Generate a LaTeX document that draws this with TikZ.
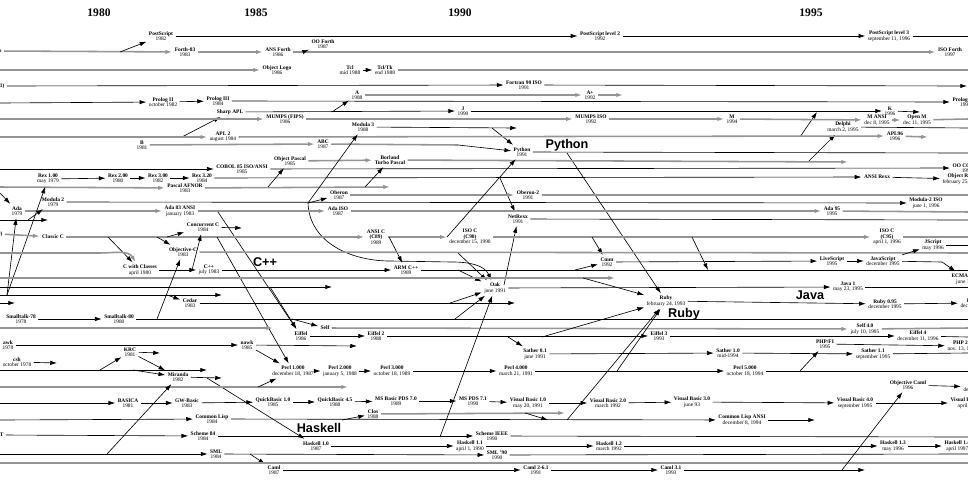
\documentclass[tikz,border=0pt]{standalone}
\usepackage{fontspec}
\setmainfont{Liberation Serif}
\newfontfamily\bigsans{Liberation Sans}
\usetikzlibrary{arrows.meta}
\tikzset{
x=0.025cm, y=-0.025cm, % one unit is one pixel of the chart, y runs down
>={Latex[length=4.8pt, width=3.1pt]}, % the arrow tip of every connector
lang/.style={align=center, inner sep=1.6pt, font=\fontsize{3.85}{3.85}\selectfont}, % a language and its date
era/.style={font=\bfseries\fontsize{8.2}{9}\selectfont}, % the years on top
family/.style={font=\bigsans\bfseries\fontsize{9}{10}\selectfont}, % the big family names
bk/.style={black, line width=0.45pt}, % thin black lines
gy/.style={black!42, line width=1.1pt}, % thick grey lines
}
\begin{document}
\begin{tikzpicture}
\useasboundingbox (0, 0) rectangle (968, 480);

\node[era] at (99, 13) (e1980) {1980};
\node[era] at (256, 13) (e1985) {1985};
\node[era] at (460, 13) (e1990) {1990};
\node[era] at (811, 13) (e1995) {1995};

\node[family] at (567, 145) (fPython) {Python};
\node[family] at (265, 262) (fCpp) {C++};
\node[family] at (810, 295) (fJava) {Java};
\node[family] at (684, 314) (fRuby) {Ruby};
\node[family] at (319, 428) (fHaskell) {Haskell};

% PostScript, Forth, Logo, Tcl
\node[lang] at (161, 36) (ps) {\textbf{PostScript}\\1982};
\node[lang] at (600, 36) (psII) {\textbf{PostScript level 2}\\1992};
\node[lang] at (889, 36) (psIII) {\textbf{PostScript level 3}\\september 11, 1996};
\coordinate (psEnd) at (968, 36);
\node[lang, anchor=east] at (4, 51) (frO) {\textbf{o}};
\coordinate (forthB) at (120, 52);
\coordinate (forthC) at (303, 52);
\node[lang] at (185, 52) (forth83) {\textbf{Forth-83}\\1983};
\node[lang] at (278, 52) (ansforth) {\textbf{ANS Forth}\\1986};
\node[lang] at (323, 44) (ooforth) {\textbf{OO Forth}\\1987};
\node[lang] at (950, 52) (isoforth) {\textbf{ISO Forth}\\1997};
\coordinate (logoA) at (0, 70);
\node[lang] at (277, 70) (ologo) {\textbf{Object Logo}\\1986};
\node[lang] at (350, 70) (tcl) {\textbf{Tcl}\\mid 1988};
\node[lang] at (385, 70) (tcltk) {\textbf{Tcl/Tk}\\end 1988};
\coordinate (tkEnd) at (968, 70);

% Fortran, APL, Prolog, MUMPS
\node[lang, anchor=east] at (7, 86) (frF) {\textbf{81)}};
\node[lang] at (524, 85) (fortran) {\textbf{Fortran 90 ISO}\\1991};
\coordinate (fortEnd) at (967, 86);
\node[lang] at (357, 95) (aa) {\textbf{A}\\1988};
\node[lang] at (590, 95) (aplus) {\textbf{A+}\\1992};
\coordinate (aplusEnd) at (623, 95);
\coordinate (prologA) at (0, 103);
\node[lang] at (163, 102) (prologII) {\textbf{Prolog II}\\october 1982};
\node[lang] at (218, 101) (prologIII) {\textbf{Prolog III}\\1984};
\node[lang, anchor=west] at (950, 102) (prologiso) {\textbf{Prolog ISO}\\1995};
\node[lang] at (230, 112) (sharpapl) {\textbf{Sharp APL}};
\coordinate (sharpB) at (332, 112);
\node[lang] at (463, 111) (jj) {\textbf{J}\\1990};
\node[lang] at (890, 111) (kk) {\textbf{K}\\1996};
\coordinate (kEnd) at (920, 112);
\coordinate (mumpsA) at (0, 119);
\node[lang] at (285, 119) (mumpsfips) {\textbf{MUMPS (FIPS)}\\1986};
\node[lang] at (591, 119) (mumpsiso) {\textbf{MUMPS ISO}\\1992};
\node[lang] at (732, 119) (mm) {\textbf{M}\\1994};
\node[lang] at (877, 120) (mansi) {\textbf{M ANSI}\\dec 8, 1995};
\node[lang] at (917, 120) (openm) {\textbf{Open M}\\dec 11, 1995};
\coordinate (mEnd) at (968, 119);
\node[lang] at (363, 127) (modula3) {\textbf{Modula 3}\\1988};
\coordinate (mod3B) at (492, 128);
\coordinate (mod3End) at (517, 128);
\node[lang] at (843, 127) (delphi) {\textbf{Delphi}\\march 2, 1995};
\coordinate (delphiEnd) at (968, 128);
\coordinate (aplA) at (0, 137);
\coordinate (aplB) at (182, 137);
\node[lang] at (223, 137) (apl2) {\textbf{APL 2}\\august 1984};
\coordinate (aplC) at (800, 137);
\coordinate (aplD) at (817, 112);
\node[lang] at (895, 136) (apl96) {\textbf{APL96}\\1996};
\coordinate (apl96End) at (928, 137);

% B, Python, Pascal, COBOL, Rexx
\node[lang] at (142, 145) (bb) {\textbf{B}\\1981};
\node[lang] at (323, 144) (abc) {\textbf{ABC}\\1987};
\coordinate (abcB) at (458, 145);
\node[lang] at (522, 152) (python) {\textbf{Python}\\1991};
\coordinate (pyB) at (567, 153);
\coordinate (pyEnd) at (968, 153);
\node[lang] at (290, 161) (objpascal) {\textbf{Object Pascal}\\1985};
\node[lang] at (390, 160) (turbo) {\textbf{Borland}\\\textbf{Turbo Pascal}};
\coordinate (pascB) at (808, 162);
\coordinate (pascEnd) at (848, 162);
\coordinate (cobolA) at (0, 169);
\node[lang] at (242, 169) (cobol) {\textbf{COBOL 85 ISO/ANSI}\\1985};
\node[lang, anchor=west] at (950, 168) (oocobol) {\textbf{OO COBOL}\\1997};
\node[lang] at (48, 179) (rexI) {\textbf{Rex 1.00}\\may 1979};
\node[lang] at (118, 178) (rexII) {\textbf{Rex 2.00}\\1980};
\node[lang] at (158, 178) (rexIII) {\textbf{Rex 3.00}\\1982};
\node[lang] at (202, 178) (rexIV) {\textbf{Rex 3.20}\\1984};
\coordinate (rexB) at (500, 178);
\node[lang] at (877, 177) (ansirexx) {\textbf{ANSI Rexx}};
\node[lang, anchor=west] at (940, 179) (objrexx) {\textbf{Object Rexx}\\february 25, 1997};
\coordinate (pascA) at (0, 187);
\node[lang] at (185, 188) (pafnor) {\textbf{Pascal AFNOR}\\1983};
\coordinate (pafB) at (268, 187);
\coordinate (pafC) at (365, 187);
\coordinate (pafEnd) at (390, 187);

% Modula, Oberon, Ada
\node[lang] at (339, 195) (oberon) {\textbf{Oberon}\\1987};
\node[lang] at (528, 195) (oberonII) {\textbf{Oberon-2}\\1991};
\coordinate (oberonEnd) at (968, 195);
\node[lang] at (53, 202) (modula2) {\textbf{Modula 2}\\1979};
\coordinate (mod2B) at (308, 203);
\node[lang] at (926, 203) (mod2iso) {\textbf{Modula-2 ISO}\\june 1, 1996};
\coordinate (curveM) at (390, 261);
\coordinate (curveN) at (452, 262);
\coordinate (adaT) at (0, 193);
\node[lang] at (17, 211) (ada) {\textbf{Ada}\\1979};
\node[lang] at (180, 211) (ada83) {\textbf{Ada 83 ANSI}\\january 1983};
\coordinate (adaB) at (218, 212);
\node[lang] at (338, 211) (adaiso) {\textbf{Ada ISO}\\1987};
\node[lang] at (832, 211) (ada95) {\textbf{Ada 95}\\1995};
\coordinate (adaEnd) at (968, 212);
\coordinate (plA) at (0, 220);
\coordinate (plB) at (28, 220);
\coordinate (plEnd) at (48, 220);
\node[lang] at (518, 219) (netrexx) {\textbf{NetRexx}\\1991};
\coordinate (netEnd) at (968, 220);

% C family
\node[lang] at (203, 227) (concc) {\textbf{Concurrent C}\\1984};
\coordinate (conccEnd) at (242, 228);
\node[lang, anchor=east] at (5, 234) (frC) {\textbf{0)}};
\node[lang] at (53, 237) (classicc) {\textbf{Classic C}};
\coordinate (cB) at (108, 237);
\coordinate (cC) at (157, 237);
\coordinate (cD) at (167, 237);
\coordinate (cE) at (217, 237);
\node[lang] at (376, 237) (ansic) {\textbf{ANSI C}\\\textbf{(C89)}\\1989};
\coordinate (cF) at (389, 237);
\coordinate (cG) at (447, 237);
\node[lang] at (470, 237) (isoc) {\textbf{ISO C}\\\textbf{(C90)}\\december 15, 1990};
\coordinate (cH) at (592, 237);
\coordinate (cI) at (692, 237);
\coordinate (cJ) at (708, 270);
\node[lang] at (887, 237) (isoc95) {\textbf{ISO C}\\\textbf{(C95)}\\april 1, 1996};
\coordinate (cEnd) at (968, 237);
\coordinate (simA) at (0, 253);
\coordinate (simB) at (100, 253);
\node[lang] at (183, 252) (objc) {\textbf{Objective-C}\\1983};
\coordinate (objcB) at (458, 253);
\coordinate (objcEnd) at (968, 253);
\node[lang] at (607, 262) (cmm) {\textbf{Cmm}\\1992};
\node[lang] at (832, 261) (livescript) {\textbf{LiveScript}\\1995};
\node[lang] at (883, 261) (javascript) {\textbf{JavaScript}\\december 1995};
\node[lang] at (933, 245) (jscript) {\textbf{JScript}\\may 1996};
\coordinate (jsEnd) at (968, 245);
\coordinate (jsB) at (942, 262);
\node[lang, anchor=west] at (949, 279) (ecma) {\textbf{ECMAScript}\\june 1997};
\node[lang] at (140, 270) (cwc) {\textbf{C with Classes}\\april 1980};
\coordinate (cppB) at (192, 270);
\node[lang] at (209, 270) (cpp) {\textbf{C++}\\july 1983};
\node[lang] at (406, 270) (armcpp) {\textbf{ARM C++}\\1989};
\coordinate (armB) at (458, 270);
\coordinate (armC) at (575, 270);
\coordinate (cppEnd) at (968, 270);

% Java, Cedar, Ruby, Smalltalk
\coordinate (r278A) at (0, 278);
\coordinate (r278B) at (583, 278);
\coordinate (r278End) at (615, 278);
\coordinate (r287A) at (0, 287);
\coordinate (r287B) at (270, 287);
\coordinate (r287End) at (332, 287);
\node[lang] at (495, 288) (oak) {\textbf{Oak}\\june 1991};
\coordinate (oakB) at (504, 285);
\node[lang] at (848, 287) (java) {\textbf{Java 1}\\may 23, 1995};
\coordinate (javaEnd) at (968, 287);
\coordinate (r295A) at (0, 295);
\coordinate (r295B) at (7, 295);
\coordinate (r295C) at (167, 295);
\coordinate (r295End) at (222, 295);
\coordinate (r303A) at (0, 303);
\coordinate (r303End) at (15, 303);
\node[lang] at (190, 303) (cedar) {\textbf{Cedar}\\1983};
\coordinate (cedarB) at (450, 303);
\coordinate (cedarEnd) at (515, 303);
\node[lang] at (666, 301) (ruby) {\textbf{Ruby}\\february 24, 1993};
\node[lang] at (885, 304) (rubyII) {\textbf{Ruby 0.95}\\december 1995};
\node[lang, anchor=west] at (958, 303) (rubyIII) {\textbf{Ruby 1.0}\\december 1996};
\node[lang] at (21, 319) (stI) {\textbf{Smalltalk-78}\\1978};
\node[lang] at (119, 319) (stII) {\textbf{Smalltalk-80}\\1980};
\coordinate (stB) at (157, 319);
\coordinate (stC) at (292, 319);
\coordinate (stD) at (455, 319);
\coordinate (stEnd) at (968, 319);

% Self, Eiffel, awk, Sather, Perl, PHP
\coordinate (r328A) at (0, 328);
\coordinate (r328End) at (273, 328);
\node[lang] at (325, 328) (self) {\textbf{Self}};
\node[lang] at (865, 329) (selfIV) {\textbf{Self 4.0}\\july 10, 1995};
\coordinate (selfEnd) at (968, 328);
\node[lang] at (301, 336) (eiffel) {\textbf{Eiffel}\\1986};
\node[lang] at (376, 336) (eiffelII) {\textbf{Eiffel 2}\\1988};
\coordinate (effB) at (508, 337);
\coordinate (effC) at (542, 337);
\node[lang] at (659, 336) (eiffelIII) {\textbf{Eiffel 3}\\1993};
\node[lang] at (918, 336) (eiffelIV) {\textbf{Eiffel 4}\\december 11, 1996};
\coordinate (effEnd) at (968, 337);
\node[lang] at (8, 345) (awk) {\textbf{awk}\\1978};
\node[lang] at (247, 345) (nawk) {\textbf{nawk}\\1985};
\coordinate (nawkEnd) at (357, 346);
\node[lang] at (825, 344) (phpfi) {\textbf{PHP/FI}\\1995};
\node[lang, anchor=west] at (945, 346) (phpII) {\textbf{PHP 2.0}\\nov. 13, 1997};
\node[lang] at (130, 352) (krc) {\textbf{KRC}\\1981};
\coordinate (krcEnd) at (160, 353);
\node[lang] at (535, 354) (satherI) {\textbf{Sather 0.1}\\june 1991};
\node[lang] at (728, 353) (satherII) {\textbf{Sather 1.0}\\mid-1994};
\node[lang] at (873, 354) (satherIII) {\textbf{Sather 1.1}\\september 1995};
\coordinate (satherEnd) at (968, 353);
\node[lang] at (17, 362) (csh) {\textbf{csh}\\october 1978};
\coordinate (cshEnd) at (57, 363);
\coordinate (r371A) at (0, 370);
\coordinate (r371B) at (100, 370);
\coordinate (r371C) at (133, 370);
\coordinate (r371End) at (207, 370);
\node[lang] at (293, 371) (perlI) {\textbf{Perl 1.000}\\december 18, 1987};
\node[lang] at (340, 371) (perlII) {\textbf{Perl 2.000}\\january 5, 1988};
\node[lang] at (392, 371) (perlIII) {\textbf{Perl 3.000}\\october 18, 1989};
\node[lang] at (516, 371) (perlIV) {\textbf{Perl 4.000}\\march 21, 1991};
\coordinate (perlB) at (617, 371);
\node[lang] at (745, 371) (perlV) {\textbf{Perl 5.000}\\october 18, 1994};
\coordinate (perlC) at (800, 371);
\coordinate (perlEnd) at (968, 371);

% Miranda, BASIC, Lisp, Scheme, Haskell, ML
\node[lang] at (178, 377) (miranda) {\textbf{Miranda}\\1982};
\coordinate (mirB) at (207, 378);
\coordinate (mirEnd) at (222, 378);
\coordinate (r387A) at (0, 387);
\coordinate (r387B) at (258, 387);
\coordinate (r387End) at (348, 387);
\node[lang] at (908, 385) (ocaml) {\textbf{Objective Caml}\\1996};
\node[lang, anchor=west] at (961, 387) (camlsl) {\textbf{Caml}\\december 1996};
\coordinate (basA) at (0, 403);
\node[lang] at (128, 403) (basica) {\textbf{BASICA}\\1981};
\node[lang] at (187, 403) (gwbasic) {\textbf{GW-Basic}\\1983};
\node[lang] at (273, 402) (qbI) {\textbf{QuickBasic 1.0}\\1985};
\node[lang] at (335, 402) (qbII) {\textbf{QuickBasic 4.5}\\1988};
\node[lang] at (396, 401) (pdsI) {\textbf{MS Basic PDS 7.0}\\1989};
\node[lang] at (473, 401) (pdsII) {\textbf{MS PDS 7.1}\\1990};
\node[lang] at (528, 403) (vbI) {\textbf{Visual Basic 1.0}\\may 20, 1991};
\node[lang] at (608, 403) (vbII) {\textbf{Visual Basic 2.0}\\march 1992};
\node[lang] at (692, 402) (vbIII) {\textbf{Visual Basic 3.0}\\june 93};
\node[lang] at (855, 403) (vbIV) {\textbf{Visual Basic 4.0}\\september 1995};
\node[lang, anchor=west] at (948, 403) (vbV) {\textbf{Visual Basic 5.0}\\april 1997};
\node[lang] at (373, 414) (clos) {\textbf{Clos}\\1988};
\coordinate (closB) at (525, 413);
\coordinate (closC) at (548, 420);
\coordinate (closEnd) at (565, 413);
\coordinate (lispA) at (0, 420);
\node[lang] at (212, 419) (clisp) {\textbf{Common Lisp}\\1984};
\coordinate (lispB) at (342, 420);
\coordinate (lispC) at (567, 420);
\node[lang] at (742, 420) (clansi) {\textbf{Common Lisp ANSI}\\december 8, 1994};
\coordinate (lispEnd) at (815, 420);
\node[lang, anchor=east] at (6, 435) (frS) {\textbf{IT}};
\node[lang] at (203, 436) (schemeI) {\textbf{Scheme 84}\\1984};
\coordinate (schB) at (440, 437);
\node[lang] at (492, 436) (schemeII) {\textbf{Scheme IEEE}\\1990};
\coordinate (schEnd) at (968, 437);
\node[lang] at (316, 446) (haskI) {\textbf{Haskell 1.0}\\1987};
\node[lang] at (470, 446) (haskII) {\textbf{Haskell 1.1}\\april 1, 1990};
\node[lang] at (609, 446) (haskIII) {\textbf{Haskell 1.2}\\march 1992};
\node[lang] at (893, 446) (haskIV) {\textbf{Haskell 1.3}\\may 1996};
\node[lang, anchor=west] at (942, 446) (haskV) {\textbf{Haskell 1.4}\\april 1997};
\coordinate (mlA) at (0, 454);
\coordinate (mlB) at (107, 454);
\node[lang] at (216, 454) (sml) {\textbf{SML}\\1984};
\coordinate (mlC) at (250, 454);
\node[lang] at (497, 455) (smlII) {\textbf{SML '90}\\1990};
\coordinate (mlEnd) at (968, 454);
\coordinate (r463A) at (0, 463);
\coordinate (r463End) at (968, 463);
\node[lang] at (274, 470) (caml) {\textbf{Caml}\\1987};
\node[lang] at (536, 470) (camlII) {\textbf{Caml 2-6.1}\\1991};
\node[lang] at (671, 470) (camlIII) {\textbf{Caml 3.1}\\1993};
\coordinate (camlB) at (842, 470);
\coordinate (camlEnd) at (865, 470);

% connectors
\draw[bk, ->] (ps) -- (psII);
\draw[bk, ->] (psII) -- (psIII);
\draw[bk] (psIII) -- (psEnd);
\draw[gy, ->] (frO) -- (forth83);
\draw[gy, ->] (forth83) -- (ansforth);
\draw[gy, ->] (ansforth) -- (isoforth);
\draw[bk, ->] (forthB) -- (ps);
\draw[bk, ->] (forthC) -- (ooforth);
\draw[gy, ->] (logoA) -- (ologo);
\draw[bk, ->] (tcl) -- (tcltk);
\draw[gy] (tcltk) -- (tkEnd);
\draw[bk, ->] (frF) -- (fortran);
\draw[bk, ->] (fortran) -- (fortEnd);
\draw[gy, ->] (aa) -- (aplus);
\draw[gy, ->] (aplus) -- (aplusEnd);
\draw[bk, ->] (sharpB) -- (aa);
\draw[bk, ->] (prologA) -- (prologII);
\draw[bk, ->] (prologII) -- (prologIII);
\draw[bk, ->] (prologIII) -- (prologiso);
\draw[bk, ->] (sharpapl) -- (jj);
\draw[bk, ->] (jj) -- (kk);
\draw[bk, ->] (kk) -- (kEnd);
\draw[bk, ->] (aplB) -- (sharpapl);
\draw[bk, ->] (aplC) -- (aplD);
\draw[gy, ->] (mumpsA) -- (mumpsfips);
\draw[gy, ->] (mumpsfips) -- (mumpsiso);
\draw[gy, ->] (mumpsiso) -- (mm);
\draw[gy, ->] (mm) -- (mansi);
\draw[gy, ->] (mansi) -- (openm);
\draw[gy] (openm) -- (mEnd);
\draw[bk, ->] (modula3) -- (mod3End);
\draw[bk, ->] (mod3B) -- (python);
\draw[bk] (delphi) -- (delphiEnd);
\draw[bk, ->] (pascB) -- (delphi);
\draw[gy, ->] (aplA) -- (apl2);
\draw[gy, ->] (apl2) -- (apl96);
\draw[gy, ->] (apl96) -- (apl96End);
\draw[gy, ->] (bb) -- (abc);
\draw[gy] (abc) -- (abcB);
\draw[bk, ->] (abcB) -- (python);
\draw[bk] (python) -- (pyEnd);
\draw[bk, ->] (pyB) -- (ruby);
\draw[gy, ->] (objpascal) -- (turbo);
\draw[gy, ->] (turbo) -- (pascEnd);
\draw[bk, ->] (cobolA) -- (cobol);
\draw[bk, ->] (cobol) -- (oocobol);
\draw[bk, ->] (rexI) -- (rexII);
\draw[bk, ->] (rexII) -- (rexIII);
\draw[bk, ->] (rexIII) -- (rexIV);
\draw[bk, ->] (rexIV) -- (ansirexx);
\draw[bk, ->] (ansirexx) -- (objrexx);
\draw[bk, ->] (rexB) -- (netrexx);
\draw[gy, ->] (pascA) -- (pafnor);
\draw[gy, ->] (pafnor) -- (pafEnd);
\draw[bk, ->] (pafB) -- (objpascal);
\draw[bk, ->] (pafC) -- (turbo);
\draw[gy, ->] (oberon) -- (oberonII);
\draw[gy] (oberonII) -- (oberonEnd);
\draw[bk, ->] (modula2) -- (mod2iso);
\draw[bk, ->] (mod2B) -- (modula3);
\draw[bk, ->] (mod2B) -- (oberon);
\draw[bk, ->] (mod2B) to[out=-88, in=180] (curveM) -- (curveN) to[out=0, in=115] (oak);
\draw[bk, ->] (adaT) -- (ada);
\draw[gy, ->] (ada) -- (ada83);
\draw[gy, ->] (ada83) -- (adaiso);
\draw[gy, ->] (adaiso) -- (ada95);
\draw[gy] (ada95) -- (adaEnd);
\draw[bk, ->] (adaB) -- (eiffel);
\draw[bk, ->] (plA) -- (plEnd);
\draw[bk, ->] (plB) -- (modula2);
\draw[bk, ->] (r295B) -- (ada);
\draw[bk, ->] (r295B) -- (rexI);
\draw[bk] (netrexx) -- (netEnd);
\draw[bk, ->] (oakB) -- (netrexx);
\draw[bk, ->] (concc) -- (conccEnd);
\draw[gy, ->] (frC) -- (classicc);
\draw[gy, ->] (classicc) -- (ansic);
\draw[gy, ->] (ansic) -- (isoc);
\draw[gy, ->] (isoc) -- (isoc95);
\draw[gy] (isoc95) -- (cEnd);
\draw[bk, ->] (cB) -- (cwc);
\draw[bk, ->] (cC) -- (objc);
\draw[bk, ->] (cD) -- (concc);
\draw[bk, ->] (cE) -- (perlI);
\draw[bk, ->] (cF) -- (armcpp);
\draw[bk, ->] (cG) -- (python);
\draw[bk, ->] (cH) -- (cmm);
\draw[bk, ->] (cI) -- (cJ);
\draw[gy] (simA) -- (simB);
\draw[gy, ->] (simB) to[out=0, in=120] (cwc);
\draw[gy] (objc) -- (objcEnd);
\draw[bk, ->] (objcB) -- (oak);
\draw[bk, ->] (cmm) -- (livescript);
\draw[bk, ->] (livescript) -- (javascript);
\draw[bk, ->] (javascript) -- (jscript);
\draw[bk] (jscript) -- (jsEnd);
\draw[bk] (javascript) -- (jsB);
\draw[bk, ->] (jsB) -- (ecma);
\draw[bk] (cwc) -- (cppB);
\draw[bk, ->] (cppB) -- (cpp);
\draw[bk, ->] (cppB) -- (concc);
\draw[bk, ->] (cpp) -- (armcpp);
\draw[bk] (armcpp) -- (cppEnd);
\draw[bk, ->] (armB) -- (oak);
\draw[bk, ->] (armC) -- (cmm);
\draw[gy, ->] (r278A) -- (r278End);
\draw[bk, ->] (r278B) -- (ruby);
\draw[bk, ->] (r287A) -- (r287End);
\draw[bk, ->] (r287B) -- (eiffel);
\draw[bk, ->] (oak) -- (java);
\draw[bk] (java) -- (javaEnd);
\draw[bk, ->] (r295A) -- (r295End);
\draw[bk, ->] (r295C) -- (cedar);
\draw[bk, ->] (r303A) -- (r303End);
\draw[bk, ->] (cedar) -- (cedarEnd);
\draw[bk, ->] (cedarB) -- (oak);
\draw[bk, ->] (ruby) -- (rubyII);
\draw[bk, ->] (rubyII) -- (rubyIII);
\draw[bk, ->] (stI) -- (stII);
\draw[bk] (stII) -- (stEnd);
\draw[bk, ->] (stB) -- (objc);
\draw[bk, ->] (stC) -- (self);
\draw[bk, ->] (stD) -- (oak);
\draw[gy, ->] (r328A) -- (r328End);
\draw[gy, ->] (self) -- (selfIV);
\draw[gy] (selfIV) -- (selfEnd);
\draw[bk, ->] (eiffel) -- (eiffelII);
\draw[bk, ->] (eiffelII) -- (eiffelIII);
\draw[bk, ->] (eiffelIII) -- (eiffelIV);
\draw[bk] (eiffelIV) -- (effEnd);
\draw[bk, ->] (effB) -- (satherI);
\draw[bk, ->] (effC) -- (ruby);
\draw[bk, ->] (awk) -- (nawk);
\draw[bk, ->] (nawk) -- (nawkEnd);
\draw[bk, ->] (nawk) -- (perlI);
\draw[bk, ->] (phpfi) -- (phpII);
\draw[bk, ->] (perlC) -- (phpfi);
\draw[bk, ->] (krc) -- (krcEnd);
\draw[bk, ->] (krc) -- (miranda);
\draw[bk, ->] (satherI) -- (satherII);
\draw[bk, ->] (satherII) -- (satherIII);
\draw[bk] (satherIII) -- (satherEnd);
\draw[bk, ->] (csh) -- (cshEnd);
\draw[bk, ->] (r371A) -- (r371End);
\draw[bk, ->] (r371B) -- (krc);
\draw[bk, ->] (r371C) -- (miranda);
\draw[bk, ->] (perlI) -- (perlII);
\draw[bk, ->] (perlII) -- (perlIII);
\draw[bk, ->] (perlIII) -- (perlIV);
\draw[bk, ->] (perlIV) -- (perlV);
\draw[bk] (perlV) -- (perlEnd);
\draw[bk, ->] (perlB) -- (ruby);
\draw[bk, ->] (miranda) -- (mirEnd);
\draw[bk, ->] (mirB) -- (haskI);
\draw[gy, ->] (r387A) -- (r387End);
\draw[bk, ->] (r387B) -- (perlI);
\draw[bk, ->] (ocaml) -- (camlsl);
\draw[bk, ->] (basA) -- (basica);
\draw[bk, ->] (basica) -- (gwbasic);
\draw[bk, ->] (gwbasic) -- (qbI);
\draw[bk, ->] (qbI) -- (qbII);
\draw[bk, ->] (qbII) -- (pdsI);
\draw[bk, ->] (pdsI) -- (pdsII);
\draw[bk, ->] (pdsII) -- (vbI);
\draw[bk, ->] (vbI) -- (vbII);
\draw[bk, ->] (vbII) -- (vbIII);
\draw[bk, ->] (vbIII) -- (vbIV);
\draw[bk, ->] (vbIV) -- (vbV);
\draw[gy, ->] (clos) -- (closEnd);
\draw[bk, ->] (closB) -- (closC);
\draw[bk, ->] (lispA) -- (clisp);
\draw[bk, ->] (clisp) -- (clansi);
\draw[bk, ->] (clansi) -- (lispEnd);
\draw[bk, ->] (lispB) -- (clos);
\draw[bk, ->] (lispC) -- (ruby);
\draw[bk, ->] (frS) -- (schemeI);
\draw[bk, ->] (schemeI) -- (schemeII);
\draw[bk] (schemeII) -- (schEnd);
\draw[bk, ->] (schB) -- (oak);
\draw[bk, ->] (haskI) -- (haskII);
\draw[bk, ->] (haskII) -- (haskIII);
\draw[bk, ->] (haskIII) -- (haskIV);
\draw[bk, ->] (haskIV) -- (haskV);
\draw[bk, ->] (mlA) -- (sml);
\draw[bk, ->] (sml) -- (smlII);
\draw[bk] (smlII) -- (mlEnd);
\draw[bk, ->] (mlB) -- (miranda);
\draw[bk, ->] (mlC) -- (caml);
\draw[gy] (r463A) -- (r463End);
\draw[bk, ->] (caml) -- (camlII);
\draw[bk, ->] (camlII) -- (camlIII);
\draw[bk, ->] (camlIII) -- (camlEnd);
\draw[bk, ->] (camlB) -- (ocaml);

\end{tikzpicture}
\end{document}
